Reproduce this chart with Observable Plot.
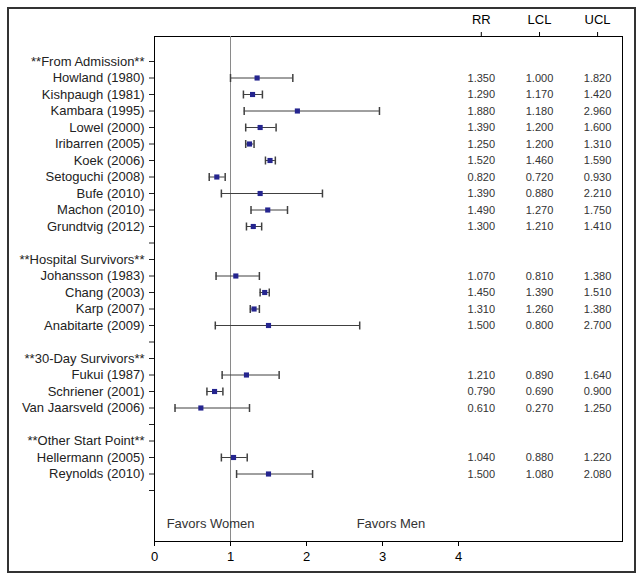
<!DOCTYPE html>
<html>
<head>
<meta charset="utf-8">
<script src="https://cdn.jsdelivr.net/npm/d3@7"></script>
<script src="https://cdn.jsdelivr.net/npm/@observablehq/plot@0.6"></script>
<style>
  html, body { margin: 0; padding: 0; background: #fff; }
  #wrap { position: relative; width: 644px; height: 581px; }
  #border { position: absolute; left: 7px; top: 7px; width: 629px; height: 566px; box-sizing: border-box; border: 2px solid #333; pointer-events: none; }
</style>
</head>
<body>
<div id="wrap"><div id="border"></div></div>
<script>
// Row labels (blank strings are spacer rows)
const labels = ["**From Admission**","Howland (1980)","Kishpaugh (1981)","Kambara (1995)","Lowel (2000)","Iribarren (2005)","Koek (2006)","Setoguchi (2008)","Bufe (2010)","Machon (2010)","Grundtvig (2012)","","**Hospital Survivors**","Johansson (1983)","Chang (2003)","Karp (2007)","Anabitarte (2009)","","**30-Day Survivors**","Fukui (1987)","Schriener (2001)","Van Jaarsveld (2006)","","**Other Start Point**","Hellermann (2005)","Reynolds (2010)",""];
const rr  = [null,1.35,1.29,1.88,1.39,1.25,1.52,0.82,1.39,1.49,1.30,null,null,1.07,1.45,1.31,1.50,null,null,1.21,0.79,0.61,null,null,1.04,1.50,null];
const lcl = [null,1.00,1.17,1.18,1.20,1.20,1.46,0.72,0.88,1.27,1.21,null,null,0.81,1.39,1.26,0.80,null,null,0.89,0.69,0.27,null,null,0.88,1.08,null];
const ucl = [null,1.82,1.42,2.96,1.60,1.31,1.59,0.93,2.21,1.75,1.41,null,null,1.38,1.51,1.38,2.70,null,null,1.64,0.90,1.25,null,null,1.22,2.08,null];
const xTicks = [0,1,2,3,4];
const colNames = ["RR","LCL","UCL"];
const colX = [4.3, 5.066, 5.83];           // column placement in x-scale units
const notes = ["Favors Women","Favors Men"];
const noteX = [0.16, 2.66];

const rows = labels.map((l,i)=>({row:i, label:l, rr:rr[i], lcl:lcl[i], ucl:ucl[i]}));
const est = rows.filter(d => d.rr != null);
const table = est.flatMap(d => [
  {row:d.row, x:colX[0], v:d.rr},
  {row:d.row, x:colX[1], v:d.lcl},
  {row:d.row, x:colX[2], v:d.ucl}
]);
const caps = est.flatMap(d => [{row:d.row, x:d.lcl},{row:d.row, x:d.ucl}]);
const capSymbol = {draw(ctx){ ctx.moveTo(0,-4); ctx.lineTo(0,4); }};

const chart = Plot.plot({
  width: 644,
  height: 581,
  marginLeft: 154,
  marginTop: 36,
  marginRight: 22,
  marginBottom: 40,
  style: {fontFamily: "'Liberation Sans', Arial, sans-serif", fontSize: "13px", color: "#000", background: "transparent"},
  x: {domain:[0,4], range:[154,458]},
  y: {type:"point", domain:d3.range(labels.length), range:[61,490], padding:0, round:false},
  marks: [
    Plot.frame({stroke:"#000"}),
    Plot.ruleX([1], {stroke:"#8a8a8a"}),
    Plot.ruleY(est, {y:"row", x1:"lcl", x2:"ucl", stroke:"#404040"}),
    Plot.dot(caps, {x:"x", y:"row", symbol:capSymbol, stroke:"#404040", fill:"none", r:4}),
    Plot.dot(est, {x:"rr", y:"row", symbol:"square", fill:"#25258f", stroke:"none", r:2.9}),
    Plot.text(table, {x:"x", y:"row", text:d=>d.v.toFixed(3), fontSize:11, fill:"#333"}),
    Plot.text(notes, {x:(d,i)=>noteX[i], frameAnchor:"bottom", dy:-14, textAnchor:"start", text:d=>d, fontSize:13, fill:"#333"}),
    Plot.axisY({ticks:d3.range(labels.length), tickFormat:i=>labels[i], tickSize:5, tickPadding:5, fontSize:13, label:null, color:"#222"}),
    Plot.axisX({anchor:"bottom", ticks:xTicks, tickFormat:d=>String(d), tickSize:5, tickPadding:5, fontSize:13, label:null}),
    Plot.axisX({anchor:"top", ticks:colX, tickFormat:(d)=>colNames[colX.indexOf(d)], tickSize:5, tickPadding:8, fontSize:13, label:null})
  ]
});
document.getElementById("wrap").prepend(chart);
</script>
</body>
</html>
